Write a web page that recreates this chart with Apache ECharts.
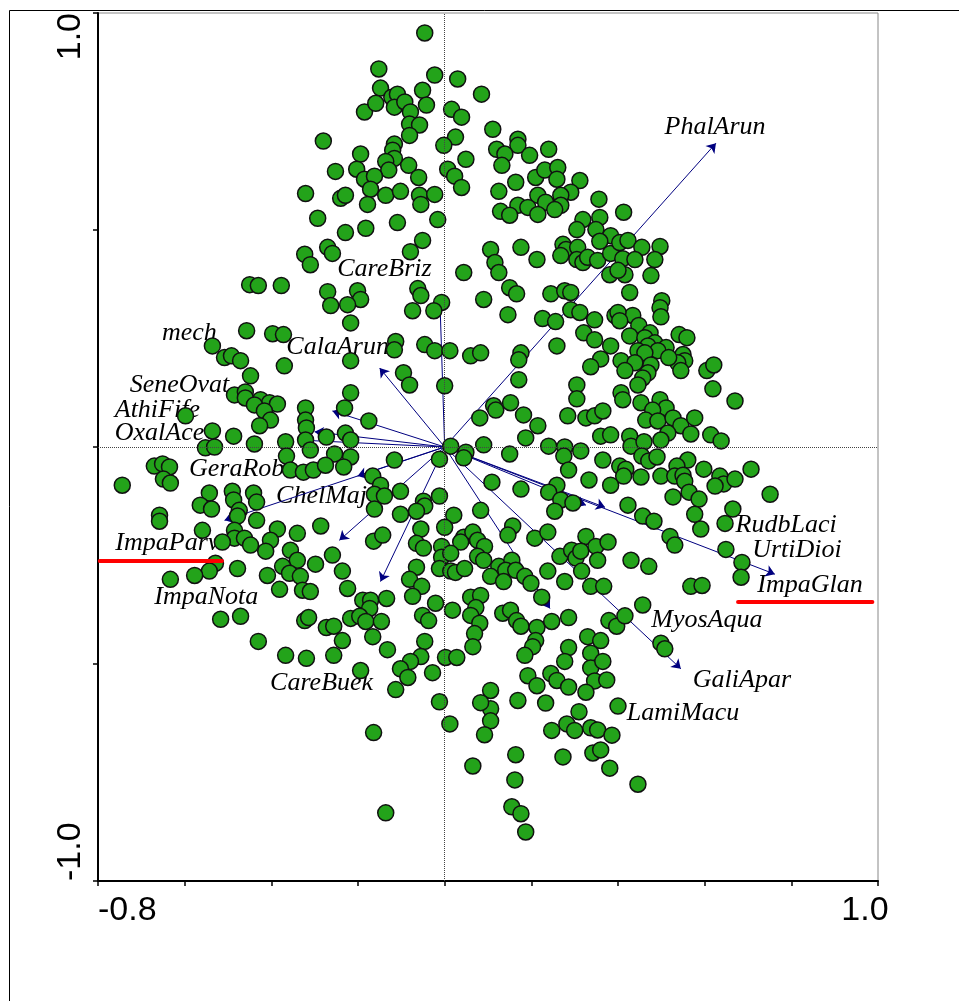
<!DOCTYPE html>
<html>
<head>
<meta charset="utf-8">
<script src="https://cdn.jsdelivr.net/npm/echarts@6/dist/echarts.min.js"></script>
<style>
  html, body { margin: 0; padding: 0; background: #fff; }
  #chart { width: 959px; height: 1001px; }
</style>
</head>
<body>
<div id="chart"></div>
<script>
// site scores [axis 1, axis 2]
const sites = [
  [-0.280,0.705],[-0.185,0.772],[-0.194,0.675],[-0.252,0.635],[-0.203,0.640],[-0.321,0.584],[-0.240,0.573],[-0.229,0.580],[-0.293,0.527],[-0.229,0.494],
  [-0.270,0.460],[-0.259,0.446],[-0.323,0.444],[-0.310,0.420],[-0.450,0.374],[-0.430,0.372],[-0.377,0.372],[-0.270,0.358],
  [-0.046,0.954],[-0.152,0.871],[-0.023,0.857],[0.030,0.848],[0.085,0.813],[-0.148,0.827],[-0.122,0.806],[-0.109,0.813],[-0.159,0.792],[-0.116,0.783],
  [-0.092,0.795],[-0.051,0.822],[-0.042,0.788],[-0.079,0.772],[-0.081,0.744],[-0.058,0.742],[-0.081,0.718],[0.016,0.778],[0.039,0.760],[0.111,0.732],
  [0.025,0.714],[-0.002,0.695],[0.049,0.663],[-0.116,0.698],[-0.120,0.684],[-0.116,0.665],[-0.136,0.658],[-0.083,0.649],[-0.129,0.638],[-0.060,0.621],
  [-0.185,0.617],[-0.162,0.624],[-0.171,0.594],[-0.178,0.559],[-0.136,0.580],[-0.102,0.589],[-0.058,0.580],[-0.055,0.559],[-0.023,0.582],[-0.109,0.517],
  [-0.016,0.524],[-0.182,0.504],[-0.051,0.476],[-0.079,0.450],[0.007,0.640],[0.023,0.624],[0.039,0.598],[0.169,0.709],[0.169,0.695],[0.120,0.686],
  [0.139,0.675],[0.132,0.649],[0.196,0.672],[0.240,0.686],[0.164,0.610],[0.125,0.589],[0.210,0.621],[0.231,0.638],[0.261,0.644],[0.259,0.617],
  [0.312,0.614],[0.291,0.587],[0.215,0.580],[0.233,0.564],[0.268,0.580],[0.268,0.557],[0.254,0.547],[0.169,0.557],[0.192,0.552],[0.215,0.536],
  [0.129,0.543],[0.150,0.534],[0.356,0.571],[0.319,0.524],[0.358,0.529],[0.305,0.501],[0.349,0.501],[0.383,0.487],[0.358,0.474],[0.273,0.467],
  [0.280,0.455],[0.268,0.441],[0.307,0.460],[0.305,0.432],[0.319,0.425],[0.330,0.437],[0.353,0.430],[0.383,0.446],[0.381,0.397],[0.176,0.460],
  [0.213,0.432],[0.106,0.455],[0.116,0.425],[0.125,0.402],[0.044,0.402],[0.150,0.367],[0.166,0.353],[0.245,0.353],[0.277,0.360],[0.291,0.356],
  [-0.062,0.365],[-0.055,0.349],[-0.007,0.333],[0.090,0.340],[-0.201,0.360],[-0.194,0.340],
  [0.413,0.541],[0.404,0.471],[0.423,0.476],[0.455,0.460],[0.497,0.462],[0.411,0.434],[0.439,0.432],[0.485,0.432],[0.416,0.397],[0.400,0.407],
  [0.476,0.395],[0.427,0.356],[0.501,0.337],
  [-0.263,0.326],[-0.224,0.328],[-0.217,0.286],[-0.457,0.268],[-0.397,0.261],[-0.372,0.259],[-0.536,0.233],[-0.508,0.206],[-0.492,0.210],[-0.471,0.199],
  [-0.370,0.187],[-0.217,0.199],[-0.448,0.164],[-0.485,0.120],[-0.460,0.127],[-0.460,0.113],[-0.425,0.109],[-0.404,0.102],[-0.386,0.099],[-0.439,0.097],
  [-0.416,0.083],[-0.402,0.062],[-0.427,0.049],[-0.321,0.090],[-0.321,0.062],[-0.319,0.044],[-0.231,0.090],[-0.217,0.125],[-0.598,0.072],[-0.536,0.037],
  [-0.487,0.025],[-0.439,0.007],[-0.552,-0.002],[-0.531,0.000],[-0.367,0.012],[-0.321,0.016],[-0.310,-0.007],[-0.273,0.023],[-0.229,0.032],[-0.217,0.016],
  [-0.365,-0.021],[-0.254,-0.016],[-0.217,-0.023],[-0.356,-0.053],[-0.326,-0.058],[-0.303,-0.053],[-0.275,-0.042],[-0.233,-0.046],[-0.670,-0.044],[-0.651,-0.039],
  [-0.635,-0.046],[-0.649,-0.074],[-0.633,-0.083],[-0.744,-0.088],[-0.543,-0.106],[-0.490,-0.102],[-0.487,-0.122],[-0.441,-0.106],[-0.434,-0.127],[-0.564,-0.134],
  [-0.538,-0.143],[-0.474,-0.146],[-0.478,-0.159],[-0.434,-0.169],[-0.658,-0.157],[-0.658,-0.171],[-0.559,-0.192],[-0.485,-0.192],[-0.485,-0.210],[-0.462,-0.210],
  [-0.448,-0.226],[-0.386,-0.189],[-0.340,-0.199],[-0.286,-0.182],[-0.402,-0.215],[-0.413,-0.240],[-0.513,-0.219],[-0.259,-0.249],[-0.356,-0.238],[-0.340,-0.261],
  [-0.374,-0.275],[-0.358,-0.291],[-0.333,-0.298],[-0.298,-0.270],[-0.409,-0.296],[-0.478,-0.280],[-0.529,-0.268],[-0.543,-0.286],[-0.577,-0.296],[-0.633,-0.305],
  [-0.236,-0.286],[-0.381,-0.328],[-0.328,-0.330],[-0.310,-0.333],[-0.224,-0.326],
  [-0.074,0.314],[-0.025,0.314],[0.146,0.305],[0.226,0.296],[0.256,0.289],[0.291,0.316],[0.312,0.310],[0.346,0.293],[0.393,0.303],
  [-0.113,0.243],[-0.116,0.224],[-0.046,0.236],[-0.023,0.222],[0.012,0.222],[0.060,0.210],[0.083,0.217],[0.176,0.217],[0.171,0.201],[0.259,0.233],
  [0.321,0.263],[0.346,0.247],[0.360,0.203],[0.337,0.185],[0.383,0.233],[-0.095,0.171],[-0.081,0.143],[0.000,0.141],[0.171,0.155],[0.305,0.143],
  [0.305,0.111],[0.113,0.095],[0.118,0.085],[0.152,0.102],[0.182,0.074],[0.081,0.067],[0.215,0.049],[0.187,0.021],[0.284,0.072],[0.326,0.067],
  [0.346,0.072],[0.365,0.083],[0.360,0.025],[0.383,0.028],[-0.175,0.060],[0.090,0.005],[0.150,-0.016],[0.240,0.002],[0.277,0.000],[0.275,-0.021],
  [0.314,-0.009],[0.365,-0.030],[0.014,0.002],[-0.012,-0.028],[0.049,-0.012],[0.044,-0.025],[-0.116,-0.030],[0.286,-0.053],[0.333,-0.076],[0.383,-0.088],
  [0.109,-0.081],[0.176,-0.097],[0.259,-0.088],[0.240,-0.104],[0.268,-0.122],[0.296,-0.129],[0.254,-0.148],[-0.166,-0.067],[-0.148,-0.088],[-0.162,-0.109],
  [-0.139,-0.113],[-0.162,-0.143],[-0.102,-0.102],[-0.049,-0.125],[-0.046,-0.136],[-0.065,-0.148],[-0.012,-0.113],[-0.102,-0.155],[0.021,-0.157],[0.083,-0.146],
  [-0.055,-0.189],[0.000,-0.185],[-0.065,-0.222],[-0.049,-0.233],[-0.164,-0.217],[-0.143,-0.203],[0.044,-0.208],[0.037,-0.219],[0.065,-0.196],[0.076,-0.215],
  [0.092,-0.229],[0.157,-0.182],[0.146,-0.203],[0.208,-0.210],[0.238,-0.196],[0.326,-0.206],[0.349,-0.229],[0.377,-0.219],[-0.007,-0.229],[-0.007,-0.254],
  [0.014,-0.245],[-0.012,-0.280],[0.014,-0.286],[0.025,-0.289],[0.046,-0.280],[0.076,-0.252],[0.090,-0.261],[0.125,-0.275],[0.155,-0.261],[0.141,-0.284],
  [0.164,-0.284],[0.106,-0.298],[0.136,-0.310],[0.185,-0.298],[0.199,-0.314],[0.266,-0.252],[0.293,-0.238],[0.303,-0.256],[0.314,-0.240],[0.353,-0.261],
  [0.238,-0.286],[0.277,-0.310],[0.316,-0.286],[0.337,-0.321],[0.367,-0.321],[-0.065,-0.277],[-0.081,-0.305],[-0.053,-0.321],
  [0.497,0.321],[0.499,0.300],[0.434,0.303],[0.400,0.310],[0.404,0.291],[0.448,0.280],[0.474,0.263],[0.427,0.256],[0.462,0.252],[0.485,0.240],
  [0.469,0.233],[0.541,0.259],[0.559,0.252],[0.511,0.229],[0.492,0.222],[0.446,0.222],[0.462,0.217],[0.550,0.213],[0.554,0.199],[0.538,0.194],
  [0.517,0.206],[0.407,0.199],[0.439,0.194],[0.416,0.176],[0.476,0.189],[0.469,0.171],[0.457,0.159],[0.446,0.143],[0.545,0.176],[0.605,0.176],
  [0.621,0.189],[0.619,0.134],[0.670,0.106],[0.407,0.125],[0.411,0.109],[0.453,0.102],[0.497,0.109],[0.511,0.090],[0.480,0.085],[0.464,0.062],
  [0.492,0.060],[0.527,0.067],[0.545,0.049],[0.577,0.067],[0.515,0.032],[0.499,0.016],[0.568,0.030],[0.614,0.028],[0.638,0.014],[0.427,0.025],
  [0.430,0.002],[0.460,0.012],[0.455,-0.021],[0.471,-0.032],[0.490,-0.023],[0.561,-0.030],[0.404,-0.044],[0.418,-0.051],[0.413,-0.067],[0.453,-0.069],
  [0.499,-0.067],[0.536,-0.044],[0.531,-0.067],[0.550,-0.065],[0.554,-0.079],[0.598,-0.051],[0.635,-0.067],[0.644,-0.085],[0.624,-0.090],[0.670,-0.074],
  [0.707,-0.051],[0.527,-0.115],[0.564,-0.104],[0.587,-0.120],[0.751,-0.109],[0.423,-0.134],[0.577,-0.155],[0.591,-0.189],[0.457,-0.159],[0.483,-0.171],
  [0.665,-0.143],[0.647,-0.176],[0.520,-0.206],[0.531,-0.226],[0.649,-0.236],[0.686,-0.266],[0.684,-0.300],[0.430,-0.261],[0.471,-0.275],[0.568,-0.321],
  [0.594,-0.319],
  [-0.517,-0.397],[-0.471,-0.390],[-0.323,-0.400],[-0.314,-0.393],[-0.273,-0.416],[-0.256,-0.413],[-0.217,-0.395],[-0.430,-0.448],[-0.236,-0.446],[-0.367,-0.480],
  [-0.319,-0.487],[-0.256,-0.480],[-0.194,-0.515],
  [-0.189,-0.353],[-0.171,-0.353],[-0.134,-0.349],[-0.173,-0.372],[-0.196,-0.390],[-0.182,-0.402],[-0.146,-0.402],[-0.074,-0.344],[-0.021,-0.360],[-0.051,-0.388],
  [-0.037,-0.400],[0.018,-0.376],[0.060,-0.346],[0.083,-0.342],[0.072,-0.370],[0.060,-0.388],[0.081,-0.406],[0.069,-0.430],[0.065,-0.460],[-0.166,-0.437],
  [-0.132,-0.467],[-0.046,-0.448],[-0.055,-0.483],[-0.079,-0.494],[-0.102,-0.511],[-0.085,-0.531],[-0.028,-0.520],[0.002,-0.485],[0.028,-0.485],[-0.113,-0.559],
  [-0.012,-0.587],[0.012,-0.638],[-0.164,-0.658],[-0.136,-0.843],[0.106,-0.561],[0.106,-0.603],[0.083,-0.589],[0.106,-0.631],[0.092,-0.663],[0.065,-0.735],
  [0.169,-0.584],[0.164,-0.709],[0.162,-0.767],[0.155,-0.829],[0.176,-0.845],[0.187,-0.887],[0.134,-0.383],[0.152,-0.376],[0.166,-0.400],[0.176,-0.413],
  [0.213,-0.416],[0.224,-0.346],[0.247,-0.402],[0.286,-0.393],[0.210,-0.446],[0.203,-0.460],[0.185,-0.480],[0.192,-0.527],[0.213,-0.550],[0.245,-0.522],
  [0.259,-0.538],[0.286,-0.553],[0.233,-0.590],[0.286,-0.462],[0.277,-0.494],[0.247,-0.653],[0.282,-0.638],[0.300,-0.653],[0.273,-0.714],[0.310,-0.610],
  [0.330,-0.437],[0.360,-0.446],[0.379,-0.400],[0.397,-0.413],[0.337,-0.475],[0.337,-0.509],[0.365,-0.494],[0.346,-0.539],[0.374,-0.537],[0.326,-0.565],
  [0.337,-0.647],[0.353,-0.652],[0.386,-0.664],[0.342,-0.705],[0.360,-0.698],[0.381,-0.740],[0.400,-0.597],
  [0.457,-0.364],[0.416,-0.389],[0.499,-0.452],[0.508,-0.465],[0.446,-0.777]
];

// species arrow tips [axis 1, axis 2]
const arrowTips = [
  [0.626,0.700],[-0.011,0.339],[-0.150,0.182],[-0.259,0.083],[-0.300,0.035],[-0.335,0.016],
  [-0.201,-0.067],[-0.508,-0.169],[-0.243,-0.215],[-0.148,-0.310],[0.243,-0.372],[0.545,-0.511],
  [0.326,-0.134],[0.370,-0.139],[0.762,-0.293]
];

// species labels and where they sit
const speciesNames = ['PhalArun','CareBriz','CalaArun','mech','SeneOvat','AthiFife','OxalAce','GeraRob','ChelMaj',
  'ImpaParv','ImpaNota','CareBuek','RudbLaci','UrtiDioi','ImpaGlan','MyosAqua','GaliApar','LamiMacu'];
const speciesX = [0.624,-0.139,-0.247,-0.589,-0.612,-0.663,-0.658,-0.480,-0.284,-0.640,-0.550,-0.284,0.788,0.813,0.843,0.605,0.686,0.550];
const speciesY = [0.737,0.409,0.231,0.263,0.143,0.085,0.032,-0.051,-0.113,-0.222,-0.346,-0.545,-0.180,-0.238,-0.319,-0.400,-0.538,-0.614];

// red underlines under two labels
const underlineX = [[-0.796,-0.514],[0.677,0.987]];
const underlineY = [-0.263,-0.357];

const xMin = -0.8, xMax = 1.0, yMin = -1.0, yMax = 1.0;

const chart = echarts.init(document.getElementById('chart'));

function near(a, b) { return Math.abs(a - b) < 1e-6; }

const option = {
  animation: false,
  backgroundColor: '#fff',
  graphic: [{
    type: 'rect', silent: true, z: -1,
    shape: { x: 9.5, y: 10.5, width: 1200, height: 1200 },
    style: { fill: 'none', stroke: '#000', lineWidth: 1 }
  }],
  grid: {
    left: 98, right: 81, top: 13, bottom: 120,
    show: true, borderColor: '#888', borderWidth: 1, backgroundColor: 'transparent'
  },
  xAxis: {
    type: 'value', min: xMin, max: xMax, interval: 0.2,
    splitLine: { show: false },
    axisLine: { onZero: false, lineStyle: { color: '#000', width: 2 } },
    axisTick: { length: 5, lineStyle: { color: '#000', width: 1.5 } },
    axisLabel: {
      fontFamily: 'Liberation Sans', fontSize: 34, color: '#000', margin: 13,
      padding: [0, 26, 0, 0],
      alignMinLabel: 'left', alignMaxLabel: 'center',
      formatter: v => near(v, xMin) ? '-0.8' : near(v, xMax) ? '1.0' : ''
    }
  },
  yAxis: {
    type: 'value', min: yMin, max: yMax, interval: 0.5,
    splitLine: { show: false },
    axisLine: { onZero: false, lineStyle: { color: '#000', width: 2 } },
    axisTick: { length: 5, lineStyle: { color: '#000', width: 1.5 } },
    axisLabel: {
      rotate: 90, fontFamily: 'Liberation Sans', fontSize: 34, color: '#000', margin: 10,
      alignMinLabel: 'left', alignMaxLabel: 'right',
      formatter: v => near(v, yMin) ? '-1.0' : near(v, yMax) ? '1.0' : ''
    }
  },
  series: [
    {
      // species names, drawn under the sites
      type: 'scatter', z: 1, silent: true,
      symbolSize: 1, itemStyle: { color: 'rgba(0,0,0,0)', opacity: 1 },
      label: {
        show: true, position: 'inside', formatter: '{b}', opacity: 1,
        fontFamily: 'Liberation Serif', fontStyle: 'italic', fontSize: 26, color: '#000'
      },
      data: speciesNames.map((n, i) => ({ name: n, value: [speciesX[i], speciesY[i]] })),
      markLine: {
        silent: true, symbol: 'none', label: { show: false },
        lineStyle: { color: '#444', type: [1, 1], width: 1 },
        data: [{ xAxis: 0 }, { yAxis: 0 }]
      }
    },
    {
      // species arrows from the origin
      type: 'lines', coordinateSystem: 'cartesian2d', z: 2, silent: true,
      symbol: ['none', 'arrow'], symbolSize: 9,
      lineStyle: { color: '#00007f', width: 1, opacity: 1 },
      data: arrowTips.map(t => ({ coords: [[0, 0], t] }))
    },
    {
      // sites
      type: 'scatter', z: 3, silent: true,
      symbol: 'circle', symbolSize: 16,
      itemStyle: { color: '#23a31a', borderColor: '#111', borderWidth: 1.5, opacity: 1 },
      data: sites
    },
    {
      // red underlines
      type: 'lines', coordinateSystem: 'cartesian2d', z: 4, silent: true,
      lineStyle: { color: '#ff0000', width: 4, opacity: 1, cap: 'round' },
      data: underlineX.map((xs, i) => ({ coords: [[xs[0], underlineY[i]], [xs[1], underlineY[i]]] }))
    }
  ]
};

chart.setOption(option);
</script>
</body>
</html>
